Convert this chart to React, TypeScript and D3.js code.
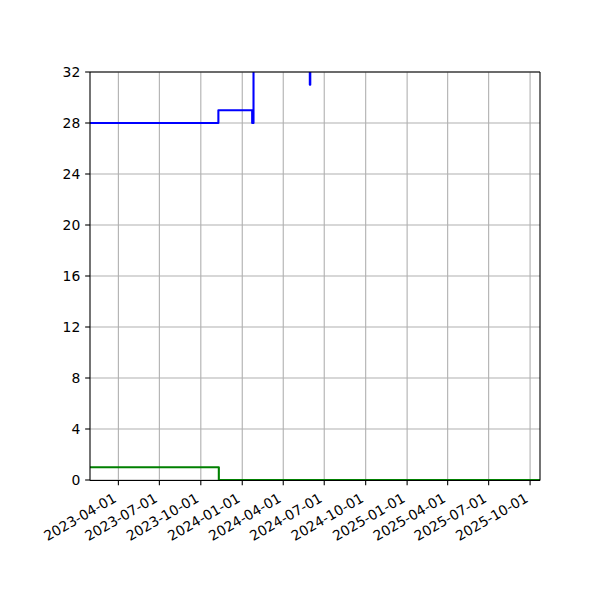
import React from "react";
import * as d3 from "d3";

// Step series: change points (date, value)
const blueDates = ["2023-01-28", "2023-11-09", "2024-01-23", "2024-01-26", "2024-05-30", "2024-05-31", "2025-10-23"];
const blueValues = [28, 29, 28, 36, 31, 36, 36];
const greenDates = ["2023-01-28", "2023-11-10", "2025-10-23"];
const greenValues = [1, 0, 0];

const xTickLabels = [
  "2023-04-01", "2023-07-01", "2023-10-01", "2024-01-01", "2024-04-01", "2024-07-01",
  "2024-10-01", "2025-01-01", "2025-04-01", "2025-07-01", "2025-10-01",
];
const yTicks = [0, 4, 8, 12, 16, 20, 24, 28, 32];
const xDomain = ["2023-01-28", "2025-10-23"];
const yDomain = [0, 32];

const W = 600, H = 600;
const L = 90, R = 540, T = 72, B = 480;
const FONT = "'DejaVu Sans', sans-serif";
const FS = 13.9;
const TICK = 4.86;

const parse = d3.utcParse("%Y-%m-%d");

export default function App() {
  const x = d3.scaleUtc().domain(xDomain.map((d) => parse(d) as Date)).range([L, R]);
  const y = d3.scaleLinear().domain(yDomain).range([B, T]);

  const line = d3
    .line<[Date, number]>()
    .x((d) => x(d[0]))
    .y((d) => y(d[1]))
    .curve(d3.curveStepAfter);

  const bluePts: [Date, number][] = blueDates.map((d, i) => [parse(d) as Date, blueValues[i]]);
  const greenPts: [Date, number][] = greenDates.map((d, i) => [parse(d) as Date, greenValues[i]]);

  return (
    <svg
      width={W}
      height={H}
      viewBox={`0 0 ${W} ${H}`}
      style={{ position: "absolute", left: 0, top: 0, background: "#fff" }}
      fontFamily={FONT}
    >
      <defs>
        <clipPath id="plotclip">
          <rect x={L} y={T} width={R - L} height={B - T} />
        </clipPath>
      </defs>
      <rect x={0} y={0} width={W} height={H} fill="#fff" />
      {/* grid */}
      <g stroke="#b0b0b0" strokeWidth={1.1}>
        {xTickLabels.map((t) => {
          const xx = x(parse(t) as Date);
          return <line key={t} x1={xx} x2={xx} y1={T} y2={B} />;
        })}
        {yTicks.map((t) => (
          <line key={t} x1={L} x2={R} y1={y(t)} y2={y(t)} />
        ))}
      </g>
      {/* series */}
      <g clipPath="url(#plotclip)" fill="none" strokeWidth={2.08} strokeLinejoin="round">
        <path d={line(bluePts) || ""} stroke="#0000ff" />
        <path d={line(greenPts) || ""} stroke="#008000" />
      </g>
      {/* spines */}
      <g stroke="#000" strokeWidth={1.1}>
        <line x1={L} x2={L} y1={T} y2={B + 0.5} />
        <line x1={R} x2={R} y1={T} y2={B + 0.5} />
        <line x1={L} x2={R} y1={T} y2={T} />
        <line x1={L} x2={R} y1={B + 0.5} y2={B + 0.5} />
      </g>
      {/* y axis */}
      <g>
        {yTicks.map((t) => (
          <g key={t}>
            <line x1={L - TICK} x2={L} y1={y(t)} y2={y(t)} stroke="#000" strokeWidth={1.1} />
            <text x={L - TICK - 4.9} y={y(t)} textAnchor="end" dominantBaseline="central" fontSize={FS} fill="#000">
              {t}
            </text>
          </g>
        ))}
      </g>
      {/* x axis */}
      <g>
        {xTickLabels.map((t) => {
          const xx = x(parse(t) as Date);
          return (
            <g key={t}>
              <line x1={xx} x2={xx} y1={B} y2={B + TICK + 0.5} stroke="#000" strokeWidth={1.1} />
              <text
                transform={`translate(${xx - 1},${B + 21}) rotate(-30)`}
                textAnchor="end"
                fontSize={FS}
                fill="#000"
              >
                {t}
              </text>
            </g>
          );
        })}
      </g>
    </svg>
  );
}
